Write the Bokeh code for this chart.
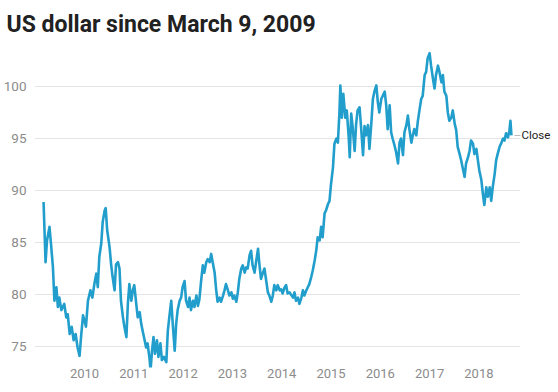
from bokeh.plotting import figure
from bokeh.models import Range1d, FixedTicker, LinearAxis
from bokeh.embed import file_html
from bokeh.resources import INLINE

title_text = "US dollar since March 9, 2009"
end_label = "Close"
year_ticks = [2010, 2011, 2012, 2013, 2014, 2015, 2016, 2017, 2018]
y_ticks = [75, 80, 85, 90, 95, 100]

dates_2009_10 = [2009.17, 2009.21, 2009.24, 2009.29, 2009.32, 2009.36, 2009.39, 2009.43, 2009.46, 2009.49,
                 2009.53, 2009.59, 2009.63, 2009.66, 2009.70, 2009.74, 2009.78, 2009.82, 2009.86, 2009.90,
                 2009.93, 2009.97, 2010.00, 2010.03, 2010.07, 2010.12, 2010.16, 2010.20, 2010.24, 2010.27,
                 2010.30, 2010.34, 2010.37, 2010.41, 2010.43, 2010.46, 2010.51, 2010.54, 2010.57, 2010.61,
                 2010.64, 2010.68, 2010.71]
close_2009_10 = [88.9, 83.1, 85.2, 86.5, 84.9, 82.6, 79.4, 80.7, 78.8, 79.7,
                 78.5, 79.1, 77.8, 78.1, 76.2, 76.9, 75.6, 76.2, 74.9, 74.1,
                 75.9, 78.0, 77.5, 76.9, 79.4, 80.4, 79.7, 81.0, 82.0, 80.7,
                 83.6, 84.9, 87.0, 88.1, 88.3, 86.2, 84.5, 82.9, 81.7, 80.4,
                 82.9, 83.1, 82.5]

dates_2010_12 = [2010.74, 2010.78, 2010.81, 2010.85, 2010.88, 2010.91, 2010.95, 2010.98, 2011.01, 2011.05,
                 2011.08, 2011.12, 2011.15, 2011.18, 2011.22, 2011.25, 2011.28, 2011.32, 2011.34, 2011.37,
                 2011.40, 2011.43, 2011.47, 2011.50, 2011.54, 2011.57, 2011.61, 2011.66, 2011.69, 2011.72,
                 2011.76, 2011.79, 2011.83, 2011.86, 2011.89, 2011.93, 2011.96, 2011.99, 2012.03, 2012.06,
                 2012.10, 2012.13, 2012.16, 2012.20, 2012.23, 2012.27, 2012.30]
close_2010_12 = [79.4, 77.8, 76.9, 75.9, 79.1, 81.0, 79.4, 80.4, 80.9, 79.1,
                 77.8, 78.3, 77.2, 76.5, 75.6, 74.9, 75.3, 73.8, 72.7, 74.6,
                 75.9, 74.3, 75.6, 74.0, 75.3, 73.7, 74.0, 73.5, 76.5, 77.8,
                 79.4, 77.2, 74.6, 77.2, 78.5, 79.4, 79.7, 80.7, 81.3, 79.4,
                 78.8, 79.7, 78.5, 79.4, 78.8, 79.9, 78.9]

dates_2012_14 = [2012.33, 2012.37, 2012.40, 2012.43, 2012.47, 2012.50, 2012.54, 2012.57, 2012.60, 2012.64,
                 2012.67, 2012.70, 2012.74, 2012.77, 2012.81, 2012.84, 2012.87, 2012.91, 2012.94, 2012.98,
                 2013.01, 2013.04, 2013.08, 2013.11, 2013.14, 2013.18, 2013.21, 2013.25, 2013.28, 2013.31,
                 2013.35, 2013.38, 2013.41, 2013.45, 2013.48, 2013.52, 2013.55, 2013.58, 2013.62, 2013.65,
                 2013.69, 2013.72, 2013.75, 2013.79, 2013.82, 2013.85, 2013.89, 2013.92, 2013.96, 2013.99,
                 2014.02, 2014.06, 2014.09, 2014.12, 2014.16]
close_2012_14 = [79.5, 81.5, 82.8, 82.1, 83.1, 83.4, 83.1, 83.9, 83.1, 82.1,
                 80.5, 79.3, 79.7, 79.3, 79.9, 80.4, 81.0, 80.4, 79.9, 80.2,
                 79.6, 79.9, 79.3, 80.2, 81.5, 82.5, 82.8, 82.1, 82.6, 82.5,
                 83.8, 84.2, 82.8, 82.1, 83.1, 84.4, 82.8, 81.5, 82.1, 82.5,
                 81.2, 80.2, 79.9, 79.3, 79.9, 80.9, 80.4, 80.9, 80.4, 80.5,
                 80.1, 80.7, 80.9, 80.1, 80.2]

dates_2014_15 = [2014.23, 2014.26, 2014.29, 2014.33, 2014.36, 2014.40, 2014.43, 2014.46, 2014.50, 2014.53,
                 2014.56, 2014.60, 2014.63, 2014.67, 2014.70, 2014.73, 2014.77, 2014.80, 2014.83, 2014.87,
                 2014.90, 2014.94, 2014.97, 2015.00, 2015.04, 2015.07, 2015.11, 2015.14, 2015.17, 2015.19,
                 2015.22, 2015.25, 2015.29, 2015.32, 2015.36, 2015.38, 2015.41, 2015.44, 2015.48, 2015.51,
                 2015.54, 2015.58, 2015.61, 2015.65]
close_2014_15 = [79.7, 80.2, 79.4, 79.7, 79.1, 79.7, 80.4, 79.9, 80.4, 80.7,
                 81.0, 81.7, 82.3, 83.3, 84.2, 85.5, 85.2, 86.5, 85.5, 87.8,
                 88.1, 88.7, 89.0, 90.6, 92.2, 94.5, 95.0, 94.6, 97.4, 100.1,
                 97.0, 99.3, 97.0, 97.7, 95.1, 93.2, 97.4, 96.1, 93.8, 96.4,
                 97.7, 98.0, 96.1, 93.4]

dates_2015_17 = [2015.68, 2015.71, 2015.75, 2015.78, 2015.82, 2015.85, 2015.88, 2015.92, 2015.95, 2015.98,
                 2016.02, 2016.05, 2016.09, 2016.12, 2016.15, 2016.19, 2016.22, 2016.25, 2016.29, 2016.32,
                 2016.36, 2016.39, 2016.42, 2016.46, 2016.49, 2016.53, 2016.56, 2016.59, 2016.63, 2016.66,
                 2016.69, 2016.73, 2016.76, 2016.80, 2016.83, 2016.86, 2016.90, 2016.93, 2016.96, 2017.00,
                 2017.03, 2017.07, 2017.10, 2017.13, 2017.17, 2017.20, 2017.24, 2017.27, 2017.30, 2017.34,
                 2017.37]
close_2015_17 = [96.2, 95.3, 96.3, 94.0, 96.6, 98.8, 99.5, 100.1, 98.5, 97.5,
                 98.8, 99.1, 99.5, 98.2, 95.9, 98.2, 95.6, 95.0, 94.3, 93.7,
                 92.6, 94.6, 95.0, 93.4, 95.6, 96.3, 97.2, 95.9, 94.6, 95.3,
                 95.9, 95.3, 96.6, 97.9, 98.8, 99.1, 101.1, 101.4, 102.7, 103.2,
                 102.0, 100.7, 99.8, 101.1, 102.0, 101.4, 100.4, 101.1, 99.5, 99.1,
                 97.5]

dates_2017_18 = [2017.40, 2017.44, 2017.47, 2017.51, 2017.54, 2017.57, 2017.61, 2017.64, 2017.67, 2017.71,
                 2017.74, 2017.78, 2017.81, 2017.84, 2017.88, 2017.91, 2017.95, 2017.98, 2018.01, 2018.05,
                 2018.08, 2018.11, 2018.15, 2018.18, 2018.22, 2018.25, 2018.28, 2018.32, 2018.35, 2018.38,
                 2018.42, 2018.45, 2018.49, 2018.52, 2018.55, 2018.59, 2018.62, 2018.64, 2018.66]
close_2017_18 = [96.7, 97.0, 97.7, 96.4, 95.8, 94.2, 93.5, 92.9, 92.2, 91.3,
                 92.6, 93.2, 93.8, 94.8, 94.5, 93.5, 94.0, 92.9, 91.9, 91.0,
                 89.7, 88.6, 90.3, 89.4, 90.3, 89.0, 90.3, 91.6, 92.9, 93.5,
                 94.2, 94.5, 95.0, 94.8, 95.5, 95.1, 95.8, 96.7, 95.3]

dates = dates_2009_10 + dates_2010_12 + dates_2012_14 + dates_2014_15 + dates_2015_17 + dates_2017_18
close = close_2009_10 + close_2010_12 + close_2012_14 + close_2014_15 + close_2015_17 + close_2017_18

FONT = "Roboto"
LINE_COLOR = "#219ecb"
TICK_COLOR = "#8c8c8c"

p = figure(frame_width=486, frame_height=322, output_backend="svg", toolbar_location=None,
           x_range=Range1d(2008.986, 2018.844), y_range=Range1d(72.98, 103.94),
           min_border_left=27, min_border_right=29, min_border_top=37, min_border_bottom=10,
           title=title_text)

p.title.text_font = FONT
p.title.text_font_size = "23px"
p.title.text_font_style = "bold"
p.title.text_color = "#212121"
p.title.align = "left"
p.title.offset = -28
p.title.standoff = 16

p.outline_line_color = None
p.background_fill_color = "white"
p.border_fill_color = "white"

p.xgrid.grid_line_color = None
p.ygrid.grid_line_color = "#e4e4e4"
p.ygrid.grid_line_width = 1

p.yaxis.ticker = FixedTicker(ticks=y_ticks)
p.xaxis.ticker = FixedTicker(ticks=year_ticks)
p.xaxis.major_label_overrides = {y: str(y) for y in year_ticks}

# right-hand axis carrying the end-of-series label and its small dash
end_axis = LinearAxis(ticker=FixedTicker(ticks=[close[-1]]),
                      major_label_overrides={close[-1]: end_label})
p.add_layout(end_axis, "right")

for ax in (p.xaxis[0], p.yaxis[0], end_axis):
    ax.axis_line_color = None
    ax.major_tick_line_color = None
    ax.major_tick_out = 0
    ax.major_tick_in = 0
    ax.minor_tick_line_color = None
    ax.minor_tick_out = 0
    ax.minor_tick_in = 0
    ax.major_label_text_font = FONT
    ax.major_label_text_font_size = "13px"
    ax.major_label_text_color = TICK_COLOR
p.yaxis[0].major_label_text_font_size = "13.5px"
p.yaxis[0].major_label_standoff = 8
p.xaxis[0].major_label_standoff = 1

end_axis.major_tick_line_color = "#bdbdbd"
end_axis.major_tick_in = 6
end_axis.major_label_standoff = 1
end_axis.major_label_text_font_size = "11.5px"
end_axis.major_label_text_color = "#222222"

p.line(dates, close, line_color=LINE_COLOR, line_width=2.6, line_join="round")

open("out.html", "w").write(file_html(p, INLINE))
